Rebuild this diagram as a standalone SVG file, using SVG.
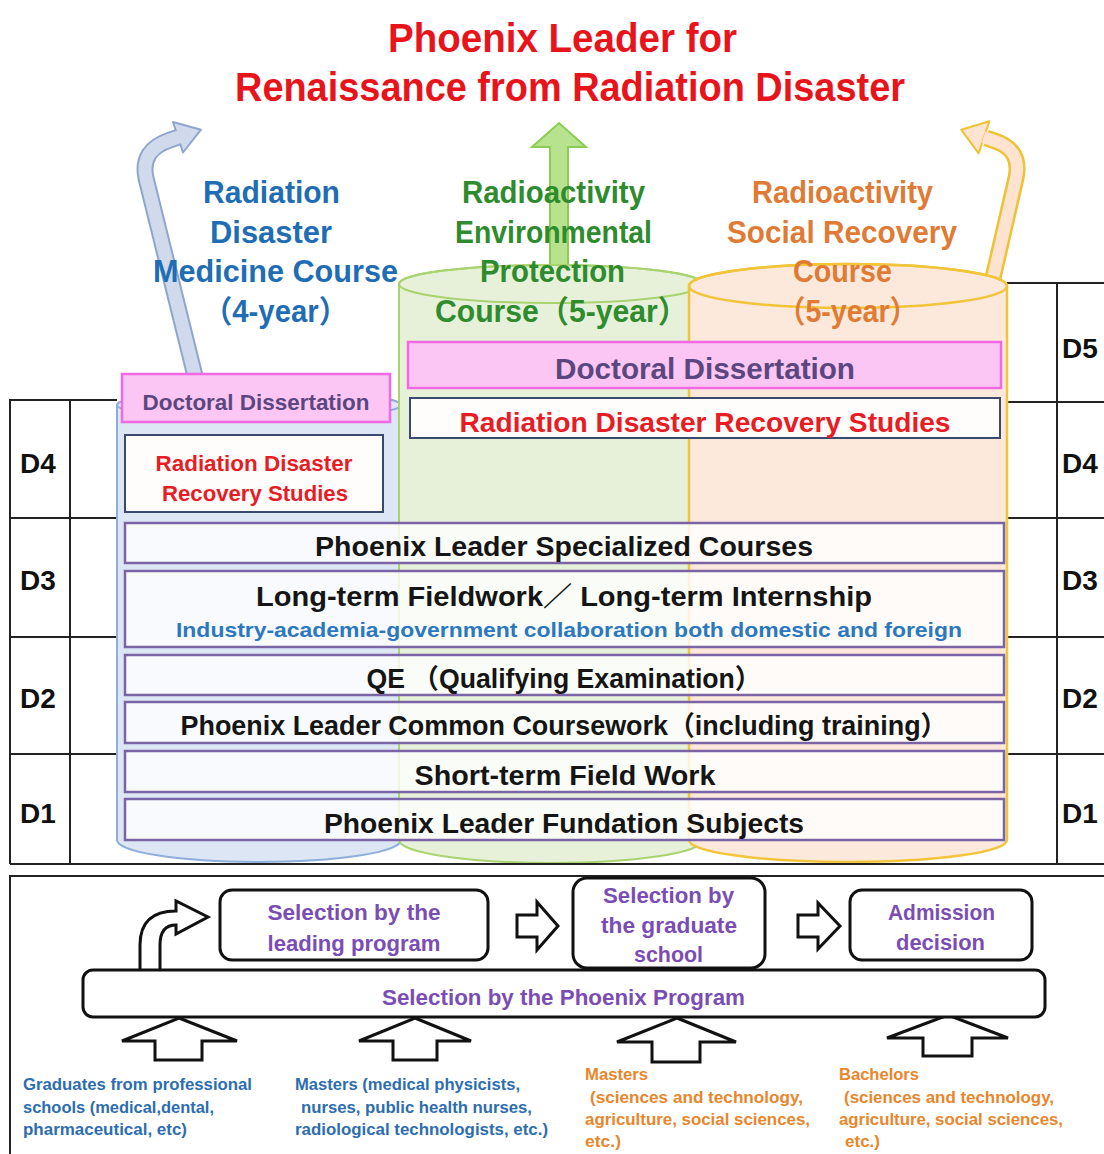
<svg xmlns="http://www.w3.org/2000/svg" width="1104" height="1154" viewBox="0 0 1104 1154">
<style>
text{font-family:"Liberation Sans","Noto Sans CJK JP",sans-serif}
.title{font-size:40px;fill:#e8141c;font-weight:bold;text-anchor:middle}
.crs{font-size:31px;font-weight:bold;text-anchor:middle}
.cb{fill:#1f6db4}
.cg{fill:#2e8b2e}
.co{fill:#e07b35}
.row{fill:#ffffff;fill-opacity:0.8;stroke:#7b64a6;stroke-width:2.5}
.rowt{font-size:27px;font-weight:bold;fill:#151515;text-anchor:middle}
.doc{fill:#fbc6f3;stroke:#f06ae4;stroke-width:2.5}
.doct{fill:#5c4680;font-weight:bold;text-anchor:middle}
.rds{fill:#fffcfc;stroke:#3b4a6c;stroke-width:2}
.red{fill:#e81c24;font-weight:bold;text-anchor:middle}
.tbl{stroke:#222;stroke-width:2;fill:none}
.dl{font-size:28px;font-weight:bold;fill:#111}
.sel{fill:#fff;stroke:#111;stroke-width:3}
.selt{fill:#7a4db5;font-size:22px;font-weight:bold;text-anchor:middle}
.blk{fill:#fff;stroke:#111;stroke-width:3;stroke-linejoin:miter}
.src{font-size:17px;font-weight:bold}
.sb{fill:#2d6db0}
.so{fill:#e8862c}
</style>

<g id="title">
<text class="title" x="562.5" y="52" textLength="349" lengthAdjust="spacingAndGlyphs">Phoenix Leader for</text>
<text class="title" x="570" y="101" textLength="670" lengthAdjust="spacingAndGlyphs">Renaissance from Radiation Disaster</text>
</g>

<g id="connectors">
<g id="arrow-blue">
<path d="M195,376 L146,178 Q140,150 170,140 L179,137" fill="none" stroke="#8fa6cc" stroke-width="17"/>
<polygon points="183,152.5 173,122 201,129.7" fill="#d0daec" stroke="#8fa6cc" stroke-width="2" stroke-linejoin="round"/>
<path d="M195,376 L146,178 Q140,150 170,140 L181,136.4" fill="none" stroke="#d0daec" stroke-width="13"/>
</g>
<g id="arrow-green">
<polygon points="550,276 550,147 532,147 559,123 586,147 568,147 568,276" fill="#b8e38e" stroke="#8ccc55" stroke-width="2"/>
</g>
<g id="arrow-orange">
<path d="M993,278 L1016,178 Q1022,150 995,141 L986,138" fill="none" stroke="#eec232" stroke-width="17"/>
<polygon points="989.4,121.2 978.6,153.4 961.2,129.7" fill="#fde3d0" stroke="#eec232" stroke-width="2" stroke-linejoin="round"/>
<path d="M993,278 L1016,178 Q1022,150 995,141 L983.5,137.2" fill="none" stroke="#fde3d0" stroke-width="12"/>
</g>
</g>

<g id="table-left" class="tbl">
<path d="M117,400 H10 V864 M70,400 V864 M10,518 H117 M10,637 H117 M10,754 H117"/>
</g>
<g id="table-right" class="tbl">
<path d="M1007,283 H1104 M1057,283 V864 M1007,402 H1104 M1007,518 H1104 M1007,637 H1104 M1007,754 H1104"/>
</g>

<g id="cylinder-blue">
<path d="M117,405 L117,840 A142,22 0 0 0 401,840 L401,405 A142,14 0 0 0 117,405 Z" fill="#dce6f4" stroke="#8eaedb" stroke-width="2"/>
<ellipse cx="259" cy="405" rx="142" ry="14" fill="none" stroke="#8eaedb" stroke-width="2"/>
</g>
<g id="cylinder-green">
<path d="M399,284 L399,840 A152,23 0 0 0 703,840 L703,284 A152,19 0 0 0 399,284 Z" fill="#e7f1da" stroke="#a8d36e" stroke-width="2"/>
<ellipse cx="551" cy="284" rx="152" ry="19" fill="none" stroke="#a8d36e" stroke-width="2"/>
</g>
<g id="cylinder-orange">
<path d="M689,286 L689,840 A159,22 0 0 0 1007,840 L1007,286 A159,22 0 0 0 689,286 Z" fill="#fde9dc" stroke="#f2c43a" stroke-width="2.5"/>
<ellipse cx="848" cy="286" rx="159" ry="22" fill="none" stroke="#f2c43a" stroke-width="2.5"/>
</g>

<g id="table-bottom-line" class="tbl"><path d="M10,864 H1104"/></g>

<g id="year-labels">
<text class="dl" x="20" y="473">D4</text>
<text class="dl" x="20" y="590">D3</text>
<text class="dl" x="20" y="708">D2</text>
<text class="dl" x="20" y="823">D1</text>
<text class="dl" x="1062" y="358">D5</text>
<text class="dl" x="1062" y="473">D4</text>
<text class="dl" x="1062" y="590">D3</text>
<text class="dl" x="1062" y="708">D2</text>
<text class="dl" x="1062" y="823">D1</text>
</g>

<g id="course-labels" class="crs">
<text class="cb" x="271.5" y="203" textLength="137" lengthAdjust="spacingAndGlyphs">Radiation</text>
<text class="cb" x="271" y="243" textLength="122" lengthAdjust="spacingAndGlyphs">Disaster</text>
<text class="cb" x="275.5" y="282" textLength="245" lengthAdjust="spacingAndGlyphs">Medicine Course</text>
<text class="cb" x="275.5" y="322" textLength="145" lengthAdjust="spacingAndGlyphs">（4-year）</text>
<text class="cg" x="553.5" y="203" textLength="183" lengthAdjust="spacingAndGlyphs">Radioactivity</text>
<text class="cg" x="553.5" y="243" textLength="197" lengthAdjust="spacingAndGlyphs">Environmental</text>
<text class="cg" x="552.5" y="282" textLength="145" lengthAdjust="spacingAndGlyphs">Protection</text>
<text class="cg" x="561.5" y="322" textLength="253" lengthAdjust="spacingAndGlyphs">Course（5-year）</text>
<text class="co" x="842.5" y="203" textLength="181" lengthAdjust="spacingAndGlyphs">Radioactivity</text>
<text class="co" x="842" y="243" textLength="230" lengthAdjust="spacingAndGlyphs">Social Recovery</text>
<text class="co" x="842.5" y="282" textLength="99" lengthAdjust="spacingAndGlyphs">Course</text>
<text class="co" x="847.5" y="322" textLength="141" lengthAdjust="spacingAndGlyphs">（5-year）</text>
</g>

<g id="doctoral-4yr">
<rect class="doc" x="122" y="374" width="268" height="48"/>
<text class="doct" x="256" y="410" font-size="22" textLength="227" lengthAdjust="spacingAndGlyphs">Doctoral Dissertation</text>
</g>
<g id="recovery-4yr">
<rect class="rds" x="125" y="435" width="258" height="77"/>
<text class="red" x="254" y="471" font-size="22" textLength="197" lengthAdjust="spacingAndGlyphs">Radiation Disaster</text>
<text class="red" x="255" y="501" font-size="22" textLength="186" lengthAdjust="spacingAndGlyphs">Recovery Studies</text>
</g>
<g id="doctoral-5yr">
<rect class="doc" x="408" y="342" width="593" height="46"/>
<text class="doct" x="705" y="379" font-size="30" textLength="300" lengthAdjust="spacingAndGlyphs">Doctoral Dissertation</text>
</g>
<g id="recovery-5yr">
<rect class="rds" x="410" y="398" width="590" height="40"/>
<text class="red" x="705" y="432" font-size="28" textLength="491" lengthAdjust="spacingAndGlyphs">Radiation Disaster Recovery Studies</text>
</g>

<g id="specialized">
<rect class="row" x="125" y="523" width="879" height="40"/>
<text class="rowt" x="564" y="556" textLength="498" lengthAdjust="spacingAndGlyphs">Phoenix Leader Specialized Courses</text>
</g>
<g id="fieldwork">
<rect class="row" x="125" y="571" width="879" height="76"/>
<text class="rowt" x="564" y="606" textLength="616" lengthAdjust="spacingAndGlyphs">Long-term Fieldwork／ Long-term Internship</text>
<text x="569" y="637" font-size="21" font-weight="bold" fill="#2b78c0" text-anchor="middle" textLength="786" lengthAdjust="spacingAndGlyphs">Industry-academia-government collaboration both domestic and foreign</text>
</g>
<g id="qe">
<rect class="row" x="125" y="655" width="879" height="40"/>
<text class="rowt" x="564" y="688" textLength="395" lengthAdjust="spacingAndGlyphs">QE （Qualifying Examination）</text>
</g>
<g id="common">
<rect class="row" x="125" y="702" width="879" height="41"/>
<text class="rowt" x="564" y="735" textLength="767" lengthAdjust="spacingAndGlyphs">Phoenix Leader Common Coursework（including training）</text>
</g>
<g id="short-term">
<rect class="row" x="125" y="751" width="879" height="41"/>
<text class="rowt" x="565" y="785" textLength="301" lengthAdjust="spacingAndGlyphs">Short-term Field Work</text>
</g>
<g id="foundation">
<rect class="row" x="125" y="799" width="879" height="41"/>
<text class="rowt" x="564" y="833" textLength="480" lengthAdjust="spacingAndGlyphs">Phoenix Leader Fundation Subjects</text>
</g>

<g id="admission-frame" class="tbl"><path d="M1104,876 H10 V1154"/></g>

<g id="selection-arrows">
<path class="blk" d="M160,971 V945 Q160,925 176,925 V934 L208,917 L176,901 V911 Q140,911 140,945 V971"/>
<polygon class="blk" points="517,915 537,915 537,902 558,926 537,950 537,937 517,937"/>
<polygon class="blk" points="798,915 818,915 818,903 840,926 818,949 818,937 798,937"/>
<polygon class="blk" points="179,1018 237,1041 202,1041 202,1060 155,1060 155,1041 122,1041"/>
<polygon class="blk" points="415,1018 471,1041 437,1041 437,1060 393,1060 393,1041 359,1041"/>
<polygon class="blk" points="677,1018 736,1042 700,1042 700,1062 652,1062 652,1042 617,1042"/>
<polygon class="blk" points="948,1015 1008,1038 972,1038 972,1056 923,1056 923,1038 887,1038"/>
</g>

<g id="phoenix-selection">
<rect class="sel" x="83" y="970" width="962" height="47" rx="10"/>
<text class="selt" x="563.5" y="1005" textLength="363" lengthAdjust="spacingAndGlyphs">Selection by the Phoenix Program</text>
</g>
<g id="leading-selection">
<rect class="sel" x="220" y="890" width="268" height="70" rx="12"/>
<text class="selt" x="354" y="920" textLength="173" lengthAdjust="spacingAndGlyphs">Selection by the</text>
<text class="selt" x="354" y="951" textLength="173" lengthAdjust="spacingAndGlyphs">leading program</text>
</g>
<g id="graduate-selection">
<rect class="sel" x="573" y="878" width="192" height="90" rx="14"/>
<text class="selt" x="668.5" y="903" textLength="131" lengthAdjust="spacingAndGlyphs">Selection by</text>
<text class="selt" x="669" y="933" textLength="136" lengthAdjust="spacingAndGlyphs">the graduate</text>
<text class="selt" x="668.5" y="962" textLength="69" lengthAdjust="spacingAndGlyphs">school</text>
</g>
<g id="admission-decision">
<rect class="sel" x="850" y="890" width="182" height="70" rx="12"/>
<text class="selt" x="941.5" y="920" textLength="107" lengthAdjust="spacingAndGlyphs">Admission</text>
<text class="selt" x="940.5" y="950" textLength="89" lengthAdjust="spacingAndGlyphs">decision</text>
</g>

<g id="applicants-professional" class="src sb">
<text x="23" y="1090" textLength="229" lengthAdjust="spacingAndGlyphs">Graduates from professional</text>
<text x="23" y="1113" textLength="191" lengthAdjust="spacingAndGlyphs">schools (medical,dental,</text>
<text x="23" y="1135" textLength="164" lengthAdjust="spacingAndGlyphs">pharmaceutical, etc)</text>
</g>
<g id="applicants-medical-masters" class="src sb">
<text x="295" y="1090" textLength="225" lengthAdjust="spacingAndGlyphs">Masters (medical physicists,</text>
<text x="301" y="1113" textLength="231" lengthAdjust="spacingAndGlyphs">nurses, public health nurses,</text>
<text x="295" y="1135" textLength="253" lengthAdjust="spacingAndGlyphs">radiological technologists, etc.)</text>
</g>
<g id="applicants-masters" class="src so">
<text x="585" y="1080" textLength="63" lengthAdjust="spacingAndGlyphs">Masters</text>
<text x="590" y="1103" textLength="213" lengthAdjust="spacingAndGlyphs">(sciences and technology,</text>
<text x="585" y="1125" textLength="225" lengthAdjust="spacingAndGlyphs">agriculture, social sciences,</text>
<text x="585" y="1147" textLength="36" lengthAdjust="spacingAndGlyphs">etc.)</text>
</g>
<g id="applicants-bachelors" class="src so">
<text x="839" y="1080" textLength="80" lengthAdjust="spacingAndGlyphs">Bachelors</text>
<text x="844" y="1103" textLength="210" lengthAdjust="spacingAndGlyphs">(sciences and technology,</text>
<text x="839" y="1125" textLength="224" lengthAdjust="spacingAndGlyphs">agriculture, social sciences,</text>
<text x="845" y="1147" textLength="35" lengthAdjust="spacingAndGlyphs">etc.)</text>
</g>
</svg>
